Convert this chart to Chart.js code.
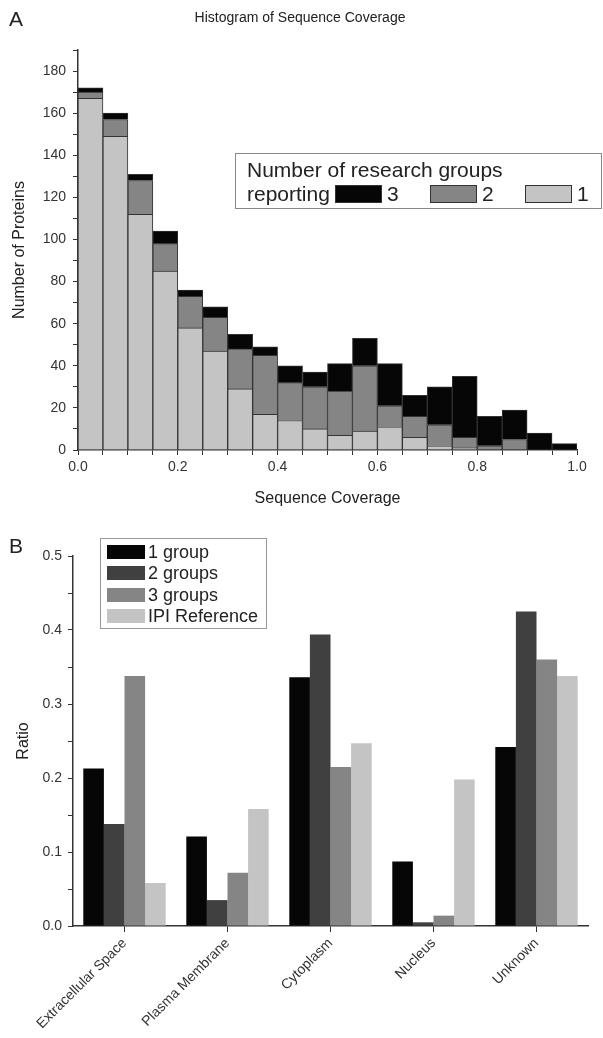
<!DOCTYPE html>
<html>
<head>
<meta charset="utf-8">
<script src="https://cdn.jsdelivr.net/npm/chart.js@4.4.1/dist/chart.umd.min.js"></script>
<style>
  body { margin: 0; background: #fff; }
  #wrapA { position: absolute; left: 0; top: 0; width: 603px; height: 525px; }
  #wrapB { position: absolute; left: 0; top: 525px; width: 603px; height: 513px; }
</style>
</head>
<body>
<div id="wrapA"><canvas id="histChart" width="603" height="525"></canvas></div>
<div id="wrapB"><canvas id="ratioChart" width="603" height="513"></canvas></div>
<script>
// ---- panel A: histogram of sequence coverage (bin centres, counts per bin)
const binCenters = [0.025, 0.075, 0.125, 0.175, 0.225, 0.275, 0.325, 0.375, 0.425, 0.475,
                    0.525, 0.575, 0.625, 0.675, 0.725, 0.775, 0.825, 0.875, 0.925, 0.975];
const reportedBy1 = [167, 149, 112, 85, 58, 47, 29, 17, 14, 10, 7, 9, 11, 6, 2, 1, 0, 0, 0, 0];
const reportedBy2 = [3, 8, 16, 13, 15, 16, 19, 28, 18, 20, 21, 31, 10, 10, 10, 5, 2, 5, 0, 0];
const reportedBy3 = [2, 3, 3, 6, 3, 5, 7, 4, 8, 7, 13, 13, 20, 10, 18, 29, 14, 14, 8, 3];
const histLegendLabels = ['3', '2', '1'];

// ---- panel B: ratio per cellular location
const locations = ['Extracellular Space', 'Plasma Membrane', 'Cytoplasm', 'Nucleus', 'Unknown'];
const oneGroup = [0.213, 0.121, 0.336, 0.087, 0.242];
const twoGroups = [0.138, 0.035, 0.394, 0.005, 0.425];
const threeGroups = [0.338, 0.072, 0.215, 0.014, 0.360];
const ipiReference = [0.058, 0.158, 0.247, 0.198, 0.338];
const ratioLabels = ['1 group', '2 groups', '3 groups', 'IPI Reference'];

const FONT = "'Liberation Sans', Arial, sans-serif";
Chart.defaults.font.family = FONT;
Chart.defaults.color = '#222';

const black = '#060606';
const darkGrey = '#404040';
const midGrey = '#858585';
const lightGrey = '#c4c4c4';

function toPoints(values) {
  return values.map((v, i) => ({ x: binCenters[i], y: v }));
}

// legend + titles for panel A
const histDecor = {
  id: 'histDecor',
  afterDraw(chart) {
    const ctx = chart.ctx;
    ctx.save();
    ctx.fillStyle = '#222';
    ctx.textBaseline = 'middle';
    ctx.font = '21px ' + FONT;
    ctx.fillText('A', 9, 20);
    ctx.font = '14px ' + FONT;
    ctx.textAlign = 'center';
    ctx.fillText('Histogram of Sequence Coverage', 300, 18);

    ctx.strokeStyle = '#888';
    ctx.lineWidth = 1;
    ctx.strokeRect(235.5, 153.5, 366, 55);
    ctx.textAlign = 'left';
    ctx.font = '21px ' + FONT;
    ctx.fillText('Number of research groups', 247, 171);
    ctx.fillText('reporting', 247, 195);

    const swatchX = [335, 430, 525];
    const colors = [black, midGrey, lightGrey];
    histLegendLabels.forEach((lbl, i) => {
      ctx.fillStyle = colors[i];
      ctx.fillRect(swatchX[i], 185, 47, 18);
      ctx.strokeStyle = '#333';
      ctx.strokeRect(swatchX[i] + 0.5, 185.5, 46, 17);
      ctx.fillStyle = '#222';
      ctx.fillText(lbl, swatchX[i] + 52, 195);
    });
    ctx.restore();
  }
};

new Chart(document.getElementById('histChart'), {
  type: 'bar',
  data: {
    datasets: [
      { label: '1', data: toPoints(reportedBy1), backgroundColor: lightGrey },
      { label: '2', data: toPoints(reportedBy2), backgroundColor: midGrey },
      { label: '3', data: toPoints(reportedBy3), backgroundColor: black }
    ]
  },
  options: {
    responsive: false,
    animation: false,
    devicePixelRatio: 1,
    layout: { padding: { top: 50, right: 26, left: 0, bottom: 17 } },
    datasets: {
      bar: { barPercentage: 1, categoryPercentage: 1, borderWidth: 1, borderColor: '#333' }
    },
    plugins: { legend: { display: false }, tooltip: { enabled: false } },
    scales: {
      x: {
        type: 'linear',
        stacked: true,
        offset: false,
        min: 0,
        max: 1,
        afterFit: s => { s.height = 58; },
        ticks: {
          stepSize: 0.05,
          font: { size: 14 },
          color: '#333',
          padding: 4,
          maxRotation: 0,
          autoSkip: false,
          callback: v => (Math.abs(v * 5 - Math.round(v * 5)) < 1e-6 ? v.toFixed(1) : '')
        },
        grid: { drawOnChartArea: false, offset: false, tickLength: 5, color: '#333' },
        border: { color: '#333', width: 1.5 },
        title: { display: true, text: 'Sequence Coverage', font: { size: 16 }, color: '#222', padding: { top: 4, bottom: 0 } }
      },
      y: {
        stacked: true,
        min: 0,
        max: 190,
        afterFit: s => { s.width = 78; },
        ticks: {
          stepSize: 10,
          font: { size: 14 },
          color: '#333',
          padding: 7,
          autoSkip: false,
          callback: v => (v % 20 === 0 && v <= 180 ? v : '')
        },
        grid: { drawOnChartArea: false, tickLength: 5, color: '#333' },
        border: { color: '#333', width: 1.5 },
        title: { display: true, text: 'Number of Proteins', font: { size: 16 }, color: '#222', padding: { top: 10, bottom: 0 } }
      }
    }
  },
  plugins: [histDecor]
});

// legend + letter for panel B
const ratioDecor = {
  id: 'ratioDecor',
  afterDraw(chart) {
    const ctx = chart.ctx;
    ctx.save();
    ctx.fillStyle = '#222';
    ctx.textBaseline = 'middle';
    ctx.font = '21px ' + FONT;
    ctx.fillText('B', 9, 22);

    ctx.strokeStyle = '#999';
    ctx.lineWidth = 1;
    ctx.strokeRect(100.5, 13.5, 166, 90);
    ctx.font = '18px ' + FONT;
    const rows = [27, 48, 70, 91];
    chart.data.datasets.forEach((ds, i) => {
      ctx.fillStyle = ds.backgroundColor;
      ctx.fillRect(107, rows[i] - 7, 38, 14);
      ctx.fillStyle = '#222';
      ctx.fillText(ratioLabels[i], 148, rows[i] + 1);
    });
    ctx.restore();
  }
};

new Chart(document.getElementById('ratioChart'), {
  type: 'bar',
  data: {
    labels: locations,
    datasets: [
      { label: ratioLabels[0], data: oneGroup, backgroundColor: black },
      { label: ratioLabels[1], data: twoGroups, backgroundColor: darkGrey },
      { label: ratioLabels[2], data: threeGroups, backgroundColor: midGrey },
      { label: ratioLabels[3], data: ipiReference, backgroundColor: lightGrey }
    ]
  },
  options: {
    responsive: false,
    animation: false,
    devicePixelRatio: 1,
    layout: { padding: { top: 31, right: 15, left: 0, bottom: 0 } },
    datasets: { bar: { barPercentage: 1, categoryPercentage: 0.8 } },
    plugins: { legend: { display: false }, tooltip: { enabled: false } },
    scales: {
      x: {
        afterFit: s => { s.height = 112; },
        ticks: { font: { size: 14 }, color: '#333', minRotation: 45, maxRotation: 45, autoSkip: false },
        grid: { drawOnChartArea: false, offset: false, tickLength: 6, color: '#333' },
        border: { color: '#333', width: 1.5 }
      },
      y: {
        min: 0,
        max: 0.5,
        afterFit: s => { s.width = 73; },
        ticks: {
          stepSize: 0.05,
          font: { size: 14 },
          color: '#333',
          padding: 6,
          autoSkip: false,
          callback: v => (Math.abs(v * 10 - Math.round(v * 10)) < 1e-6 ? v.toFixed(1) : '')
        },
        grid: { drawOnChartArea: false, tickLength: 5, color: '#333' },
        border: { color: '#333', width: 1.5 },
        title: { display: true, text: 'Ratio', font: { size: 16 }, color: '#222', padding: { top: 14, bottom: 0 } }
      }
    }
  },
  plugins: [ratioDecor]
});
</script>
</body>
</html>
